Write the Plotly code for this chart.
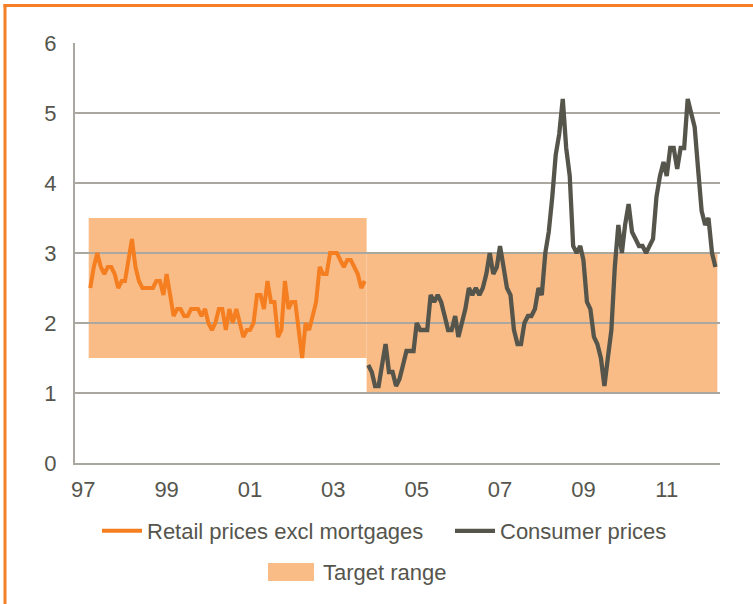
import plotly.graph_objects as go
import pandas as pd

# ---------------- data ----------------
retail_start = "1997-05"
retail_values = [
    2.5, 2.8, 3.0, 2.8, 2.7, 2.8, 2.8, 2.7, 2.5, 2.6,
    2.6, 2.9, 3.2, 2.8, 2.6, 2.5, 2.5, 2.5, 2.5, 2.6,
    2.6, 2.4, 2.7, 2.4, 2.1, 2.2, 2.2, 2.1, 2.1, 2.2,
    2.2, 2.2, 2.1, 2.2, 2.0, 1.9, 2.0, 2.2, 2.2, 1.9,
    2.2, 2.0, 2.2, 2.0, 1.8, 1.9, 1.9, 2.0, 2.4, 2.4,
    2.2, 2.6, 2.3, 2.3, 1.8, 1.9, 2.6, 2.2, 2.3, 2.3,
    1.9, 1.5, 2.0, 1.9, 2.1, 2.3, 2.8, 2.7, 2.7, 3.0,
    3.0, 3.0, 2.9, 2.8, 2.9, 2.9, 2.8, 2.7, 2.5, 2.6,
]

cpi_start = "2004-01"
cpi_values = [
    1.4, 1.3, 1.1, 1.1, 1.4, 1.7, 1.3, 1.3, 1.1, 1.2,
    1.4, 1.6, 1.6, 1.6, 2.0, 1.9, 1.9, 1.9, 2.4, 2.3,
    2.4, 2.3, 2.1, 1.9, 1.9, 2.1, 1.8, 2.0, 2.2, 2.5,
    2.4, 2.5, 2.4, 2.5, 2.7, 3.0, 2.7, 2.8, 3.1, 2.8,
    2.5, 2.4, 1.9, 1.7, 1.7, 2.0, 2.1, 2.1, 2.2, 2.5,
    2.4, 3.0, 3.3, 3.8, 4.4, 4.7, 5.2, 4.5, 4.1, 3.1,
    3.0, 3.1, 2.9, 2.3, 2.2, 1.8, 1.7, 1.5, 1.1, 1.5,
    1.9, 2.8, 3.4, 3.0, 3.4, 3.7, 3.3, 3.2, 3.1, 3.1,
    3.0, 3.1, 3.2, 3.8, 4.1, 4.3, 4.1, 4.5, 4.5, 4.2,
    4.5, 4.5, 5.2, 5.0, 4.8, 4.2, 3.6, 3.4, 3.5, 3.0,
    2.8,
]

tick_years = [1997, 1999, 2001, 2003, 2005, 2007, 2009, 2011]
tick_labels = ["97", "99", "01", "03", "05", "07", "09", "11"]

target_low = [1.5, 1.0]
target_high = [3.5, 3.0]

series_names = ["Retail prices excl mortgages", "Consumer prices", "Target range"]

# ---------------- styling ----------------
ORANGE = "#F47E20"
DARK = "#55554B"
FILL = "#F9BC87"
GRID = "#A9A7A0"
TEXT = "#55554D"
BORDER = "#F47F24"
FONT = "Liberation Sans, Arial, sans-serif"
FS = 22

W, H = 753, 604
ML, MR, MT, MB = 75, 33, 43, 141
PW = W - ML - MR
PH = H - MT - MB


def px_x(p):
    return (p - ML) / PW


def px_y(p):
    return (H - MB - p) / PH


# monthly observations plotted mid-month
retail_months = pd.date_range(retail_start, periods=len(retail_values), freq="MS")
cpi_months = pd.date_range(cpi_start, periods=len(cpi_values), freq="MS")
retail_x = retail_months + pd.Timedelta(days=14)
cpi_x = cpi_months + pd.Timedelta(days=14)

# target periods span the whole months covered by each series
target_periods = [
    (retail_months[0], retail_months[-1] + pd.offsets.MonthBegin(1)),
    (cpi_months[0], cpi_months[-1] + pd.offsets.MonthBegin(1)),
]

fig = go.Figure()

fig.add_trace(go.Scatter(
    x=retail_x, y=retail_values, mode="lines", name=series_names[0],
    line=dict(color=ORANGE, width=4), legend="legend",
))
fig.add_trace(go.Scatter(
    x=cpi_x, y=cpi_values, mode="lines", name=series_names[1],
    line=dict(color=DARK, width=4.3), legend="legend2",
))

shapes = []
for (x0, x1), lo, hi in zip(target_periods, target_low, target_high):
    shapes.append(dict(
        type="rect", xref="x", yref="y", x0=x0, x1=x1, y0=lo, y1=hi,
        fillcolor=FILL, line=dict(width=0), layer="below",
    ))

# outer orange frame (top and left)
shapes.append(dict(type="line", xref="paper", yref="paper",
                   x0=px_x(3.5), x1=px_x(760), y0=px_y(5.5), y1=px_y(5.5),
                   line=dict(color=BORDER, width=3), layer="above"))
shapes.append(dict(type="line", xref="paper", yref="paper",
                   x0=px_x(5), x1=px_x(5), y0=px_y(4), y1=px_y(620),
                   line=dict(color=BORDER, width=3), layer="above"))

# legend key for the target range
shapes.append(dict(type="rect", xref="paper", yref="paper",
                   x0=px_x(268), x1=px_x(314), y0=px_y(581), y1=px_y(563),
                   fillcolor=FILL, line=dict(width=0), layer="above"))

annotations = [dict(
    text=series_names[2], xref="paper", yref="paper",
    x=px_x(321), y=px_y(572), xanchor="left", yanchor="middle",
    showarrow=False, font=dict(family=FONT, size=FS, color=TEXT),
)]

fig.update_layout(
    width=W, height=H,
    margin=dict(l=ML, r=MR, t=MT, b=MB, pad=0, autoexpand=False),
    paper_bgcolor="white", plot_bgcolor="white",
    font=dict(family=FONT, size=FS, color=TEXT),
    shapes=shapes,
    annotations=annotations,
    showlegend=True,
    hovermode=False,
    legend=dict(
        x=px_x(97), y=px_y(531), xanchor="left", yanchor="middle",
        orientation="h", bgcolor="rgba(0,0,0,0)", borderwidth=0,
        font=dict(family=FONT, size=FS, color=TEXT), itemwidth=40,
    ),
    legend2=dict(
        x=px_x(450), y=px_y(531), xanchor="left", yanchor="middle",
        orientation="h", bgcolor="rgba(0,0,0,0)", borderwidth=0,
        font=dict(family=FONT, size=FS, color=TEXT), itemwidth=40,
    ),
    xaxis=dict(
        type="date",
        range=["1997-01-01", "2012-06-24"],
        tickvals=[f"{y}-03-15" for y in tick_years],
        ticktext=tick_labels,
        showgrid=False, zeroline=False,
        showline=True, linecolor=GRID, linewidth=2,
        ticks="", ticklabelstandoff=6,
        tickfont=dict(family=FONT, size=FS, color=TEXT),
    ),
    yaxis=dict(
        range=[0, 6], dtick=1, tick0=0,
        showgrid=True, gridcolor=GRID, gridwidth=2,
        zeroline=False,
        showline=True, linecolor=GRID, linewidth=2,
        ticks="", ticklabelstandoff=12,
        tickfont=dict(family=FONT, size=FS, color=TEXT),
    ),
)

fig.write_html(
    "out.html",
    config={"displayModeBar": False},
    post_script="document.body.style.margin='0';document.body.style.overflow='hidden';",
)
